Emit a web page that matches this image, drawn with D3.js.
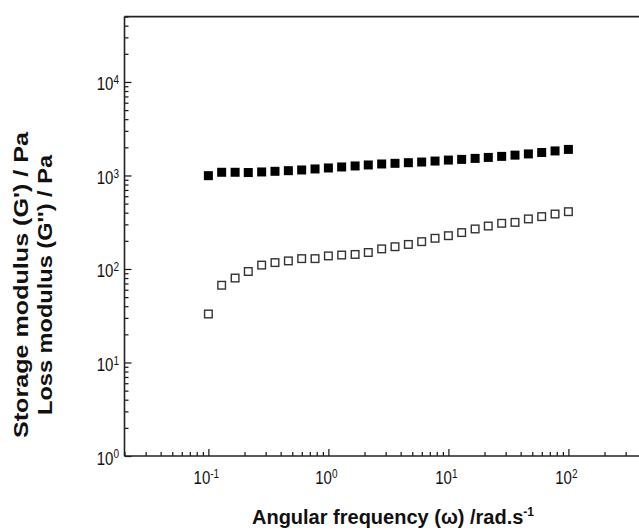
<!DOCTYPE html>
<html><head><meta charset="utf-8">
<script src="https://cdn.jsdelivr.net/npm/d3@7"></script>
<style>body{margin:0;background:#fff}svg{display:block}</style>
</head><body><svg id="c" width="639" height="531"></svg>
<script>
// Angular frequency (rad/s)
const freq = [0.1, 0.129, 0.167, 0.215, 0.278, 0.359, 0.464, 0.599, 0.774,
  1, 1.29, 1.67, 2.15, 2.78, 3.59, 4.64, 5.99, 7.74,
  10, 12.9, 16.7, 21.5, 27.8, 35.9, 46.4, 59.9, 77.4, 100];
// Storage modulus G' (Pa) - filled squares
const storage = [995, 1082, 1082, 1075, 1090, 1108, 1125, 1145, 1174,
  1203, 1233, 1264, 1295, 1327, 1349, 1370, 1392, 1426,
  1461, 1486, 1523, 1560, 1600, 1650, 1700, 1760, 1830, 1900];
// Loss modulus G'' (Pa) - open squares
const loss = [33, 67, 80, 94, 110, 117, 122, 129, 129,
  138, 141, 143, 150, 164, 173, 183, 196, 213,
  227, 245, 268, 288, 308, 315, 343, 363, 387, 410];

const xMajor = [0.1, 1, 10, 100];
const xExp = ["-1", "0", "1", "2"];
const yMajor = [1, 10, 100, 1000, 10000];
const yExp = ["0", "1", "2", "3", "4"];

const font = "'Liberation Sans', Arial, sans-serif";
const svg = d3.select("#c");
const x = d3.scaleLog().domain([0.02, 1000]).range([124.5, 688.4]);
const y = d3.scaleLog().domain([1, 50000]).range([456, 16.6]);

// minor tick values
const xMinor = [], yMinor = [];
for (let e = -2; e <= 2; e++) for (let m = 1; m <= 9; m++) {
  const v = m * Math.pow(10, e);
  if (v >= 0.02 && v <= 1000) xMinor.push(v);
}
for (let e = 0; e <= 4; e++) for (let m = 1; m <= 9; m++) {
  const v = m * Math.pow(10, e);
  if (v >= 1 && v <= 50000) yMinor.push(v);
}

// axes (ticks drawn inward)
const gx = svg.append("g").attr("transform", `translate(0,${y(1)})`)
  .call(d3.axisTop(x).tickValues(xMinor).tickSize(4).tickFormat(""));
gx.selectAll(".tick").filter(d => xMajor.includes(d)).select("line").attr("y2", -7);
const gy = svg.append("g").attr("transform", `translate(${x(0.02)},0)`)
  .call(d3.axisRight(y).tickValues(yMinor).tickSize(4).tickFormat(""));
gy.selectAll(".tick").filter(d => yMajor.includes(d)).select("line").attr("x2", 7);
[gx, gy].forEach(g => {
  g.select(".domain").remove();
  g.selectAll("line").attr("stroke", "#111").attr("stroke-width", 1.2);
});

// frame lines: left, bottom, top
const frame = svg.append("g").attr("stroke", "#222").attr("stroke-width", 1.6).attr("fill", "none");
frame.append("line").attr("x1", x(0.02)).attr("x2", x(0.02)).attr("y1", y(50000)).attr("y2", y(1));
frame.append("line").attr("x1", x(0.02)).attr("x2", x(1000)).attr("y1", y(1)).attr("y2", y(1));
frame.append("line").attr("x1", x(0.02)).attr("x2", x(1000)).attr("y1", y(50000)).attr("y2", y(50000));

// tick labels (slightly tall glyphs as in the reference)
function powLabel(px, py, exp, anchor) {
  const g = svg.append("g").attr("transform", `translate(${px},${py}) scale(1,1.22)`);
  const t = g.append("text").attr("text-anchor", anchor).attr("font-family", font)
    .attr("font-size", 15).attr("fill", "#111");
  t.append("tspan").text("10");
  t.append("tspan").attr("dy", -5).attr("font-size", 10).text(exp);
}
xMajor.forEach((v, i) => powLabel(x(v) - 2, 484, xExp[i], "middle"));
yMajor.forEach((v, i) => powLabel(119, y(v) + 8.5, yExp[i], "end"));

// axis titles
const xt = svg.append("text").attr("x", 393).attr("y", 524).attr("text-anchor", "middle")
  .attr("font-family", font).attr("font-size", 20).attr("font-weight", "bold").attr("fill", "#111");
xt.append("tspan").text("Angular frequency (ω) /rad.s");
xt.append("tspan").attr("dy", -8).attr("font-size", 12).text("-1");

const yt = svg.append("g").attr("transform", "translate(0,285) rotate(-90)")
  .attr("font-family", font).attr("font-size", 21).attr("font-weight", "bold").attr("fill", "#111");
yt.append("text").attr("x", -153).attr("y", 28).attr("textLength", 306)
  .attr("lengthAdjust", "spacingAndGlyphs").text("Storage modulus (G') / Pa");
yt.append("text").attr("x", -130).attr("y", 52).attr("textLength", 260)
  .attr("lengthAdjust", "spacingAndGlyphs").text("Loss modulus (G'') / Pa");

// data markers
const s = 9;
svg.append("g").selectAll("rect").data(freq).join("rect")
  .attr("x", (d) => x(d) - s / 2).attr("y", (d, i) => y(storage[i]) - s / 2)
  .attr("width", s).attr("height", s).attr("fill", "#000");
svg.append("g").selectAll("rect").data(freq).join("rect")
  .attr("x", (d) => x(d) - (s - 1.4) / 2).attr("y", (d, i) => y(loss[i]) - (s - 1.4) / 2)
  .attr("width", s - 1.4).attr("height", s - 1.4).attr("fill", "#fff")
  .attr("stroke", "#333").attr("stroke-width", 1.4);
</script></body></html>
